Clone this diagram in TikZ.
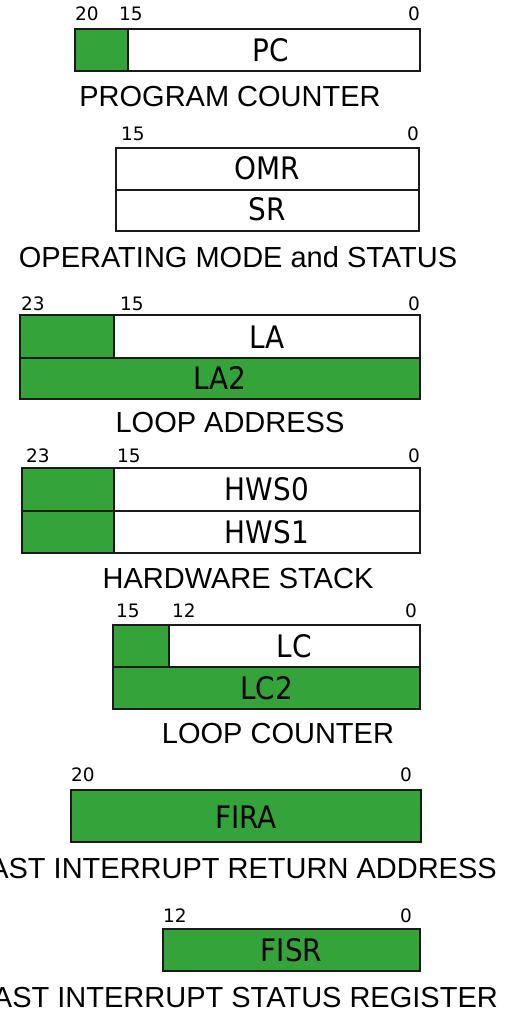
\documentclass[tikz,border=0pt]{standalone}
\usepackage{fontspec}
\IfFontExistsTF{DejaVu Sans Condensed}
  {\newfontfamily\regfont{DejaVu Sans Condensed}}
  {\newfontfamily\regfont[FakeStretch=0.9]{DejaVu Sans}}
\newfontfamily\bitfont{DejaVu Sans}
\newfontfamily\capfont{Liberation Sans}
\definecolor{regreen}{RGB}{52,163,58}
\definecolor{edge}{RGB}{26,26,26}
\tikzset{
  frame/.style={draw=edge, line width=2pt},
  fld/.style={font=\regfont\fontsize{31}{31}\selectfont, anchor=base, inner sep=0pt},
  bit/.style={font=\bitfont\fontsize{18.5}{18.5}\selectfont, anchor=base west, inner sep=0pt},
  bitr/.style={bit, anchor=base east},
  title/.style={font=\capfont\fontsize{29}{29}\selectfont, anchor=base, inner sep=0pt},
  titler/.style={title, anchor=base east},
}
\begin{document}
\begin{tikzpicture}[x=1pt,y=-1pt]
\useasboundingbox (0,0) rectangle (510,1016);
\clip (0,0) rectangle (510,1016);

% Program counter
\fill[regreen] (75,29) rectangle (128,71);
\draw[frame] (75,29) rectangle (420,71);
\draw[frame] (128,29) -- (128,71);
\node[fld] (pc) at (271,62) {PC};
\node[bit] (pc20) at (75,21) {20};
\node[bit] (pc15) at (119,21) {15};
\node[bitr] (pc0) at (420,21) {0};
\node[title] (pccap) at (230,107) {PROGRAM COUNTER};

% Operating mode and status
\draw[frame] (116,148) rectangle (419,231);
\draw[frame] (116,190) -- (419,190);
\node[fld] (omr) at (267.5,180) {OMR};
\node[fld] (sr) at (267.5,221) {SR};
\node[bit] (om15) at (121,141) {15};
\node[bitr] (om0) at (419,141) {0};
\node[title] (omcap) at (238,267) {OPERATING MODE and STATUS};

% Loop address
\fill[regreen] (20,315) rectangle (114,358);
\fill[regreen] (20,358) rectangle (420,399);
\draw[frame] (20,315) rectangle (420,399);
\draw[frame] (20,358) -- (420,358);
\draw[frame] (114,315) -- (114,358);
\node[fld] (la) at (267,348) {LA};
\node[fld] (la2) at (220,389.5) {LA2};
\node[bit] (la23) at (21,310) {23};
\node[bit] (la15) at (120,310) {15};
\node[bitr] (la0) at (420,310) {0};
\node[title] (lacap) at (230,432) {LOOP ADDRESS};

% Hardware stack
\fill[regreen] (22,468) rectangle (114,553);
\draw[frame] (22,468) rectangle (420,553);
\draw[frame] (22,511) -- (420,511);
\draw[frame] (114,468) -- (114,553);
\node[fld] (hws0) at (267,500.5) {HWS0};
\node[fld] (hws1) at (267,543) {HWS1};
\node[bit] (hw23) at (26,462) {23};
\node[bit] (hw15) at (117,462) {15};
\node[bitr] (hw0) at (420,462) {0};
\node[title] (hwcap) at (238,588) {HARDWARE STACK};

% Loop counter
\fill[regreen] (113,625) rectangle (169,667);
\fill[regreen] (113,667) rectangle (420,709);
\draw[frame] (113,625) rectangle (420,709);
\draw[frame] (113,667) -- (420,667);
\draw[frame] (169,625) -- (169,667);
\node[fld] (lc) at (294.5,657) {LC};
\node[fld] (lc2) at (266.5,699) {LC2};
\node[bit] (lc15) at (116,617) {15};
\node[bit] (lc12) at (172,617) {12};
\node[bitr] (lc0) at (417,617) {0};
\node[title] (lccap) at (278,743) {LOOP COUNTER};

% Fast interrupt return address
\fill[regreen] (71,790) rectangle (421,842);
\draw[frame] (71,790) rectangle (421,842);
\node[fld] (fira) at (246,828) {FIRA};
\node[bit] (fi20) at (71,781) {20};
\node[bitr] (fi0) at (412,781) {0};
\node[titler] (ficap) at (497,878) {FAST INTERRUPT RETURN ADDRESS};

% Fast interrupt status register
\fill[regreen] (163,929) rectangle (420,971);
\draw[frame] (163,929) rectangle (420,971);
\node[fld] (fisr) at (291.5,961) {FISR};
\node[bit] (fs12) at (163,922) {12};
\node[bitr] (fs0) at (412,922) {0};
\node[titler] (fscap) at (498,1007) {FAST INTERRUPT STATUS REGISTER};
\end{tikzpicture}
\end{document}
